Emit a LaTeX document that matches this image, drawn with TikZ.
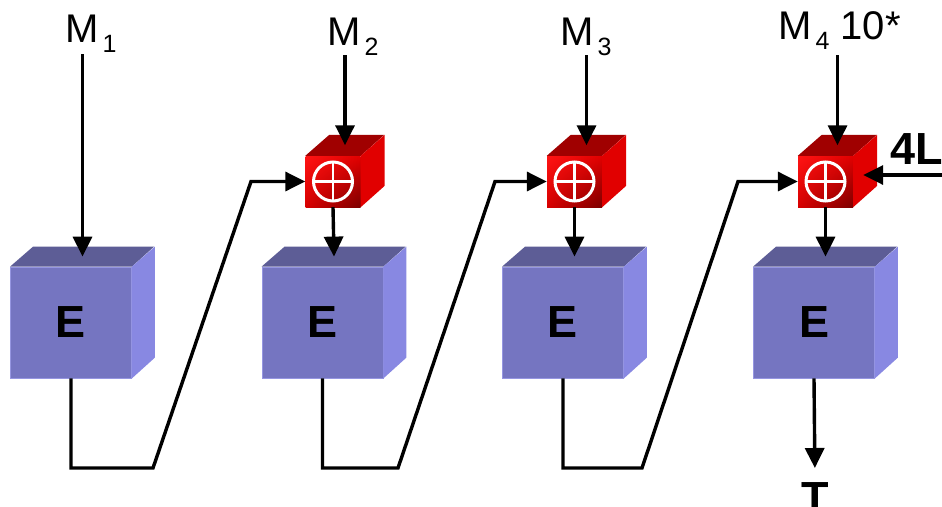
\documentclass[tikz,border=0pt]{standalone}
\usepackage{fontspec}
\setmainfont{Liberation Sans}
\usetikzlibrary{arrows.meta,shadings}

\definecolor{efront}{RGB}{117,117,193}
\definecolor{etop}{RGB}{93,93,150}
\definecolor{eside}{RGB}{136,136,226}
\definecolor{eedge}{RGB}{150,150,225}
\definecolor{xtop}{RGB}{160,0,0}
\definecolor{xside}{RGB}{225,0,0}
\definecolor{xul}{RGB}{255,20,20}
\definecolor{xur}{RGB}{225,0,0}
\definecolor{xll}{RGB}{215,0,0}
\definecolor{xlr}{RGB}{125,0,0}

% message block label with a dropped index
\newcommand{\msub}[1]{M\kern0.1em\raisebox{-0.25em}{\fontsize{25}{25}\selectfont #1}}

\begin{document}
\begin{tikzpicture}[x=1pt,y=-1pt,
    every node/.style={inner sep=0pt},
    lab/.style={font=\fontsize{40}{40}\selectfont},
    big/.style={font=\fontsize{45}{45}\selectfont\bfseries},
    enc/.style={big,fill=efront,draw=eedge,line width=0.8pt,minimum width=121pt,minimum height=111pt},
    xorbox/.style={minimum width=55pt,minimum height=51pt,
      upper left=xul,upper right=xur,lower left=xll,lower right=xlr},
    flow/.style={line width=3.4pt,-{Triangle[length=20pt,width=19pt]}}]

    \fill[white] (0,0) rectangle (942,506);
    \useasboundingbox (0,0) rectangle (942,506);

    % cipher blocks
    \node[enc] (e1) at (71,322.5) {E};
    \node[enc] (e2) at (322.5,322.5) {E};
    \node[enc] (e3) at (563,322.5) {E};
    \node[enc] (e4) at (814,322.5) {E};

    % xor blocks
    \node[xorbox] (x2) at (333,181.5) {};
    \node[xorbox] (x3) at (574.5,181.5) {};
    \node[xorbox] (x4) at (825.5,181.5) {};

    % top and side faces
    \foreach \n in {e1,e2,e3,e4} {
      \fill[etop] (\n.north west) -- ++(23,-20) -- ++(121,0) -- (\n.north east) -- cycle;
      \fill[eside] (\n.north east) -- ++(23,-20) -- ++(0,111) -- (\n.south east) -- cycle;
      \coordinate (\n t) at ([shift={(11.5,-10)}]\n.north);
    }
    \foreach \n in {x2,x3,x4} {
      \fill[xtop] (\n.north west) -- ++(24,-21) -- ++(55,0) -- (\n.north east) -- cycle;
      \fill[xside] (\n.north east) -- ++(24,-21) -- ++(0,51) -- (\n.south east) -- cycle;
      \coordinate (\n t) at ([shift={(12,-10.5)}]\n.north);
      \draw[white,line width=3pt] (\n.center) circle[radius=19.5pt];
      \draw[white,line width=2.6pt] ([xshift=-19.5pt]\n.center) -- ([xshift=19.5pt]\n.center)
        ([yshift=-19.5pt]\n.center) -- ([yshift=19.5pt]\n.center);
    }

    % inputs
    \node[lab,anchor=base west] (m1) at (65,42) {\msub{1}};
    \node[lab,anchor=base west] (m2) at (327,45) {\msub{2}};
    \node[lab,anchor=base west] (m3) at (560,45) {\msub{3}};
    \node[lab,anchor=base west] (m4) at (778,39) {\msub{4} 10*};
    \node[big,anchor=base west] (l4) at (890,164) {4L};
    \node[big,anchor=north] (t) at (815,482) {T};

    \draw[flow,shorten <=2pt] (m1.south -| e1t) -- (e1t);
    \draw[flow] (m2.south -| x2t) -- (x2t);
    \draw[flow] (m3.south -| x3t) -- (x3t);
    \draw[flow,shorten <=6pt] (m4.south -| x4t) -- (x4t);

    \coordinate (in4) at (942,175);
    \draw[flow] (in4) -- ([shift={(10,-6.5)}]x4.east);

    % chaining
    \coordinate (b1) at (153,468);
    \coordinate (u1) at (251,181.5);
    \coordinate (b2) at (398,468);
    \coordinate (u2) at (495,181.5);
    \coordinate (b3) at (642,468);
    \coordinate (u3) at (738,181.5);
    \draw[flow] (e1.south) |- (b1) -- (u1) -- (x2.west);
    \draw[flow] (e2.south) |- (b2) -- (u2) -- (x3.west);
    \draw[flow] (e3.south) |- (b3) -- (u3) -- (x4.west);

    \draw[flow] (x2.south) -- (e2t);
    \draw[flow] (x3.south) -- (e3t);
    \draw[flow] (x4.south) -- (e4t);

    \draw[flow,shorten >=14pt] (e4.south) -- (t.north);

\end{tikzpicture}
\end{document}
